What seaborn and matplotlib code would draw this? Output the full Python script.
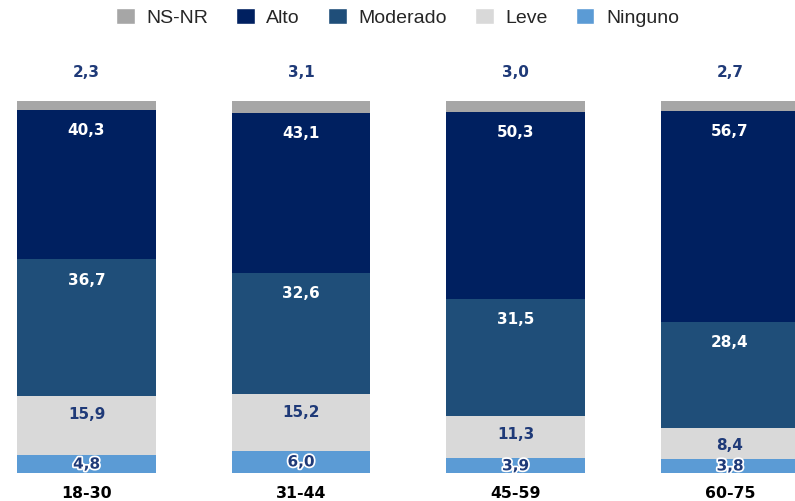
import numpy as np
import pandas as pd
import matplotlib.pyplot as plt
import matplotlib.patheffects as pe
from matplotlib.patches import Patch
import seaborn as sns

grupos = ['18-30', '31-44', '45-59', '60-75']
ninguno = [4.8, 6.0, 3.9, 3.8]
leve = [15.9, 15.2, 11.3, 8.4]
moderado = [36.7, 32.6, 31.5, 28.4]
alto = [40.3, 43.1, 50.3, 56.7]
nsnr = [2.3, 3.1, 3.0, 2.7]

series = [('Ninguno', ninguno, '#5b9bd5'),
          ('Leve', leve, '#d9d9d9'),
          ('Moderado', moderado, '#1f4e79'),
          ('Alto', alto, '#002060'),
          ('NS-NR', nsnr, '#a6a6a6')]

navy = '#1f3a78'
numfont = ['DejaVu Sans']

sns.set_theme(style='white')
plt.rcParams['font.family'] = ['Liberation Sans', 'DejaVu Sans']

fig = plt.figure(figsize=(7.95, 5.02), dpi=100)
ax = fig.add_axes([0, 28 / 502, 1, 372 / 502])

df = pd.DataFrame({'grupo': grupos})
bottom = np.zeros(len(grupos))
for name, vals, col in series:
    df['v'] = vals
    sns.barplot(data=df, x='grupo', y='v', order=grupos, color=col,
                width=0.648, bottom=bottom, ax=ax, saturation=1,
                linewidth=0, err_kws={'linewidth': 0})
    for i, v in enumerate(vals):
        txt = f'{v:.1f}'.replace('.', ',')
        top = bottom[i] + v
        kw = dict(ha='center', va='center', fontsize=11, fontweight='bold',
                  family=numfont)
        if name == 'NS-NR':
            ax.text(i, top + 8, txt, color=navy, clip_on=False, **kw)
        elif name == 'Ninguno':
            ax.text(i, bottom[i] + v / 2, txt, color=navy,
                    path_effects=[pe.withStroke(linewidth=2.5, foreground='white')],
                    **kw)
        elif name == 'Leve':
            ax.text(i, top - 4.6, txt, color=navy, **kw)
        else:
            ax.text(i, top - 5.3, txt, color='white', **kw)
    bottom = bottom + np.array(vals)

ax.set_xlim(-86.5 / 214.5, (795 - 86.5) / 214.5)
ax.set_ylim(0, 100)
ax.set_xlabel('')
ax.set_ylabel('')
ax.set_yticks([])
ax.tick_params(axis='x', length=0, pad=9)
for lab in ax.get_xticklabels():
    lab.set_fontweight('bold')
    lab.set_fontsize(11.3)
    lab.set_family(numfont)
    lab.set_color('black')
sns.despine(ax=ax, left=True, bottom=True)

handles = [Patch(facecolor=c, label=n) for n, _, c in reversed(series)]
fig.legend(handles=handles, loc='center', bbox_to_anchor=(0.5, 1 - 18 / 502),
           ncol=5, frameon=False, fontsize=14, handlelength=0.95,
           handleheight=0.9, columnspacing=1.45, handletextpad=0.6,
           labelcolor='#262626')

fig.savefig('out.png', dpi=100)
